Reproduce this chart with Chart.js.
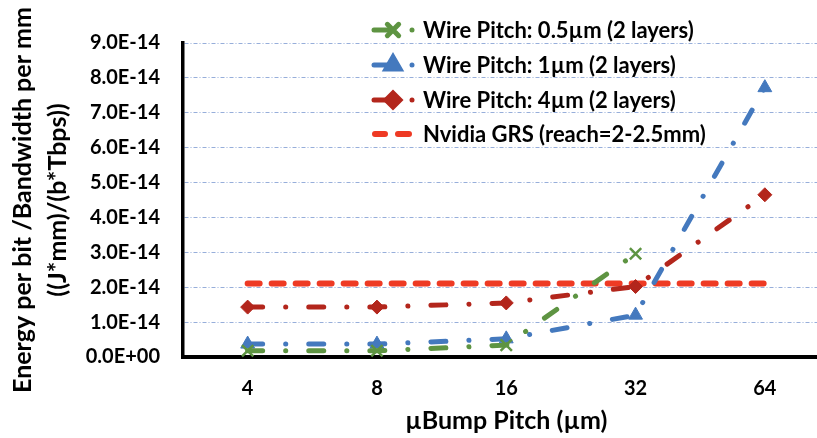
<!DOCTYPE html>
<html>
<head>
<meta charset="utf-8">
<script src="https://cdn.jsdelivr.net/npm/chart.js@4.4.1/dist/chart.umd.min.js"></script>
<style>
  html, body { margin: 0; padding: 0; background: #fff; }
  #wrap { width: 817px; height: 438px; overflow: hidden; }
</style>
</head>
<body>
<div id="wrap"><canvas id="chart" width="840" height="438"></canvas></div>
<script>
// µBump pitch categories (µm)
const pitches = ["4", "8", "16", "32", "64"];

// energy per bit / bandwidth per mm, (J*mm)/(b*Tbps)
const pitch05 = [0.18e-14, 0.18e-14, 0.34e-14, 2.96e-14, null];
const pitch1 = [0.37e-14, 0.37e-14, 0.52e-14, 1.2e-14, 7.72e-14];
const pitch4 = [1.43e-14, 1.43e-14, 1.55e-14, 2.02e-14, 4.65e-14];
const nvidiaGrs = [2.11e-14, 2.11e-14, 2.11e-14, 2.11e-14, 2.11e-14];

const seriesNames = [
  "Wire Pitch: 0.5µm (2 layers)",
  "Wire Pitch: 1µm (2 layers)",
  "Wire Pitch: 4µm (2 layers)",
  "Nvidia GRS (reach=2-2.5mm)"
];

const yTicks = { min: 0, max: 9e-14, step: 1e-14 };

const FONT = "Lato, 'Open Sans', sans-serif";
const dashDot = [15, 23, 0.1, 23];

function sci(v) {
  // Excel style 0.0E+00
  return v.toExponential(1).toUpperCase().replace(/E([+-])(\d)$/, "E$10$2");
}

const legendPlugin = {
  id: "cornerLegend",
  afterDatasetsDraw(chart) {
    const ctx = chart.ctx;
    const rows = [30, 65, 100, 134];
    chart.data.datasets.forEach((ds, i) => {
      const y = rows[i];
      ctx.save();
      ctx.strokeStyle = ds.borderColor;
      ctx.fillStyle = ds.borderColor;
      ctx.lineCap = "round";
      ctx.lineWidth = ds.borderWidth;
      if (ds.pointStyle) {
        ctx.beginPath();
        ctx.moveTo(374, y);
        ctx.lineTo(388, y);
        ctx.stroke();
        ctx.beginPath();
        ctx.arc(412, y, ds.borderWidth / 2, 0, Math.PI * 2);
        ctx.fill();
        Chart.helpers.drawPoint(ctx, {
          pointStyle: ds.pointStyle,
          radius: ds.pointRadius,
          borderWidth: ds.pointBorderWidth
        }, 393, y);
        ctx.fillStyle = ds.borderColor;
        ctx.strokeStyle = ds.borderColor;
        if (ds.pointStyle === "crossRot") {
          ctx.lineWidth = ds.pointBorderWidth;
          ctx.stroke();
        } else {
          ctx.fill();
        }
      } else {
        ctx.beginPath();
        ctx.moveTo(375, y);
        ctx.lineTo(385, y);
        ctx.moveTo(398, y);
        ctx.lineTo(409, y);
        ctx.stroke();
      }
      ctx.fillStyle = "#000";
      ctx.font = "bold 22px " + FONT;
      ctx.textBaseline = "middle";
      ctx.fillText(seriesNames[i], 423, y + 1);
      ctx.restore();
    });
  }
};

new Chart(document.getElementById("chart"), {
  type: "line",
  data: {
    labels: pitches,
    datasets: [
      {
        label: seriesNames[0],
        data: pitch05,
        borderColor: "#5E9442",
        backgroundColor: "#5E9442",
        borderWidth: 5,
        borderDash: dashDot,
        borderCapStyle: "round",
        pointStyle: "crossRot",
        pointRadius: 8,
        pointBorderWidth: 2.5,
        spanGaps: false
      },
      {
        label: seriesNames[1],
        data: pitch1,
        borderColor: "#4479BE",
        backgroundColor: "#4479BE",
        borderWidth: 5,
        borderDash: dashDot,
        borderCapStyle: "round",
        pointStyle: "triangle",
        pointRadius: 8,
        pointBorderWidth: 1
      },
      {
        label: seriesNames[2],
        data: pitch4,
        borderColor: "#B3261C",
        backgroundColor: "#B3261C",
        borderWidth: 5,
        borderDash: dashDot,
        borderCapStyle: "round",
        pointStyle: "rectRot",
        pointRadius: 7,
        pointBorderWidth: 1
      },
      {
        label: seriesNames[3],
        data: nvidiaGrs,
        borderColor: "#EE3A24",
        backgroundColor: "#EE3A24",
        borderWidth: 6,
        borderDash: [12, 12],
        borderCapStyle: "round",
        pointRadius: 0,
        pointStyle: false
      }
    ]
  },
  options: {
    responsive: false,
    animation: false,
    devicePixelRatio: 1,
    layout: { padding: { top: 43, right: 1, left: 0, bottom: 0 } },
    plugins: {
      legend: { display: false },
      tooltip: { enabled: false }
    },
    elements: { line: { tension: 0, fill: false } },
    datasets: { line: { clip: false } },
    scales: {
      x: {
        type: "category",
        offset: true,
        afterFit: (s) => { s.height = 81; },
        grid: { display: false, drawTicks: false },
        border: { display: true, color: "#000", width: 4 },
        ticks: {
          padding: 20,
          color: "#000",
          font: { family: FONT, size: 20, weight: "bold" }
        },
        title: {
          display: true,
          text: "µBump Pitch (µm)",
          color: "#000",
          font: { family: FONT, size: 25, weight: "bold", lineHeight: 1.2 },
          padding: { top: 0, bottom: 2 }
        }
      },
      y: {
        min: yTicks.min,
        max: yTicks.max,
        afterFit: (s) => { s.width = 183; },
        grid: { color: "#97AEDA", lineWidth: 1, drawTicks: false },
        border: { display: true, color: "#000", width: 3.5, dash: [4, 2, 1, 2] },
        ticks: {
          stepSize: yTicks.step,
          padding: 23,
          color: "#000",
          font: { family: FONT, size: 20, weight: "bold" },
          callback: (v) => sci(v)
        },
        title: {
          display: true,
          text: ["Energy per bit /Bandwidth per mm", "((J*mm)/(b*Tbps))"],
          color: "#000",
          font: { family: FONT, size: 25, weight: "bold", lineHeight: 1.42 },
          padding: { top: 5, bottom: 0 }
        }
      }
    }
  },
  plugins: [legendPlugin]
});
</script>
</body>
</html>
